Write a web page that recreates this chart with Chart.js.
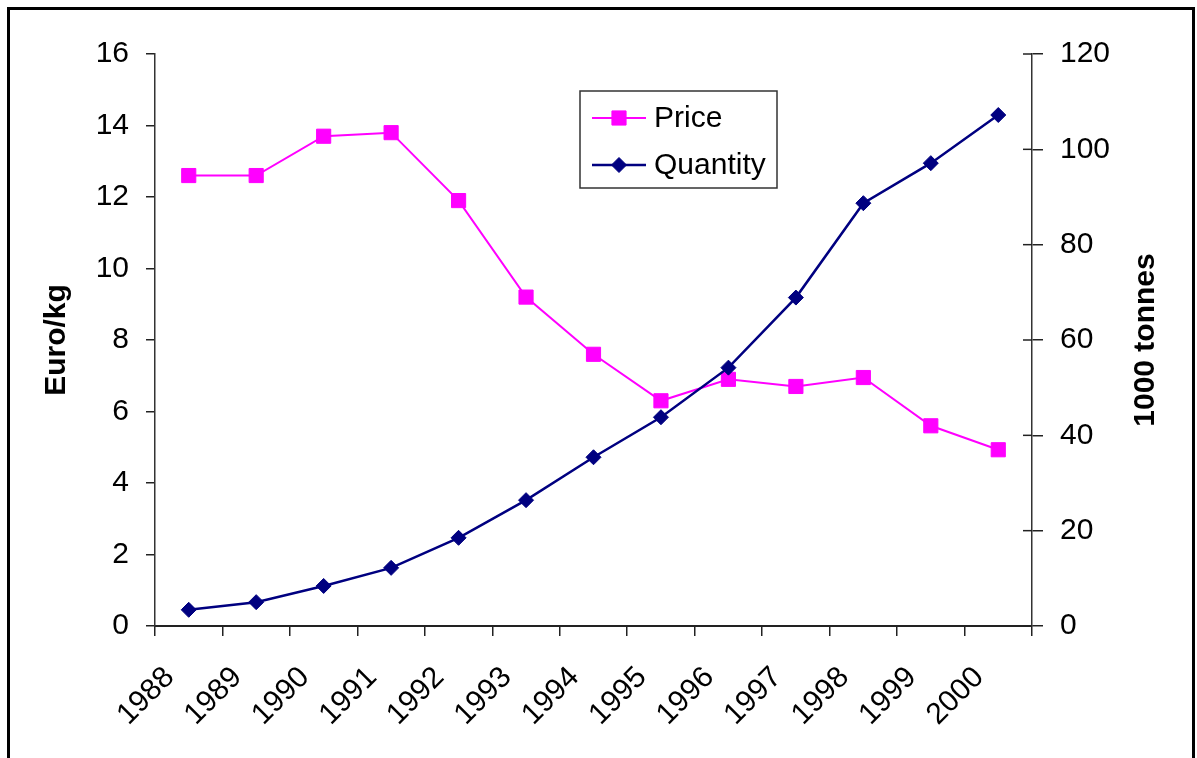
<!DOCTYPE html>
<html>
<head>
<meta charset="utf-8">
<script src="https://cdn.jsdelivr.net/npm/chart.js@4/dist/chart.umd.min.js"></script>
<style>
  html, body { margin: 0; padding: 0; background: #fff; }
  #wrap { position: relative; width: 1197px; height: 758px; }
</style>
</head>
<body>
<div id="wrap"><canvas id="priceChart"></canvas></div>
<script>
// data
const years = ['1988', '1989', '1990', '1991', '1992', '1993', '1994', '1995', '1996', '1997', '1998', '1999', '2000'];
const priceValues = [12.6, 12.6, 13.7, 13.8, 11.9, 9.2, 7.6, 6.3, 6.9, 6.7, 6.95, 5.6, 4.93];
const quantityValues = [3.4, 5.0, 8.4, 12.2, 18.5, 26.4, 35.4, 43.8, 54.2, 68.9, 88.7, 97.1, 107.2];
const priceTicks = [0, 2, 4, 6, 8, 10, 12, 14, 16];
const quantityTicks = [0, 20, 40, 60, 80, 100, 120];

const FONT = "'Liberation Sans', Arial, sans-serif";

// white page with the black frame round it
const framePlugin = {
  id: 'frame',
  beforeDraw(chart) {
    const ctx = chart.ctx;
    ctx.save();
    ctx.fillStyle = '#fff';
    ctx.fillRect(0, 0, chart.width, chart.height);
    ctx.strokeStyle = '#000';
    ctx.lineWidth = 3;
    ctx.strokeRect(8.5, 8.5, 1185, 800);
    ctx.restore();
  }
};

// right axis ticks cross the axis line, draw the inner half
const innerTicksPlugin = {
  id: 'innerTicks',
  afterDatasetsDraw(chart) {
    const s = chart.scales.y1;
    const ctx = chart.ctx;
    ctx.save();
    ctx.strokeStyle = '#222';
    ctx.lineWidth = 1.5;
    s.ticks.forEach((t, i) => {
      const y = s.getPixelForTick(i);
      ctx.beginPath();
      ctx.moveTo(s.left - 9, y);
      ctx.lineTo(s.left, y);
      ctx.stroke();
    });
    ctx.restore();
  }
};

// both axis titles read bottom to top
const titlesPlugin = {
  id: 'titles',
  afterDraw(chart) {
    const ctx = chart.ctx;
    const mid = (chart.chartArea.top + chart.chartArea.bottom) / 2;
    ctx.save();
    ctx.fillStyle = '#000';
    ctx.font = 'bold 30px ' + FONT;
    ctx.textAlign = 'center';
    ctx.textBaseline = 'middle';
    [['Euro/kg', 57], ['1000 tonnes', 1146]].forEach(([txt, x]) => {
      ctx.save();
      ctx.translate(x, mid);
      ctx.rotate(-Math.PI / 2);
      ctx.fillText(txt, 0, 0);
      ctx.restore();
    });
    ctx.restore();
  }
};

// boxed legend inside the plot
const boxLegendPlugin = {
  id: 'boxLegend',
  afterDraw(chart) {
    const ctx = chart.ctx;
    const box = { x: 580, y: 91, w: 197, h: 97 };
    ctx.save();
    ctx.fillStyle = '#fff';
    ctx.fillRect(box.x, box.y, box.w, box.h);
    ctx.strokeStyle = '#333';
    ctx.lineWidth = 1.5;
    ctx.strokeRect(box.x, box.y, box.w, box.h);
    const rows = [118, 165];
    chart.data.datasets.forEach((ds, i) => {
      const y = rows[i];
      ctx.strokeStyle = ds.borderColor;
      ctx.lineWidth = ds.borderWidth;
      ctx.beginPath();
      ctx.moveTo(592, y);
      ctx.lineTo(646, y);
      ctx.stroke();
      ctx.fillStyle = ds.pointBackgroundColor;
      ctx.strokeStyle = ds.pointBorderColor;
      ctx.lineWidth = 1;
      Chart.helpers.drawPoint(ctx, { pointStyle: ds.pointStyle, radius: ds.pointRadius, borderWidth: 1 }, 619, y);
      ctx.fillStyle = '#000';
      ctx.font = '30px ' + FONT;
      ctx.textAlign = 'left';
      ctx.textBaseline = 'middle';
      ctx.fillText(ds.label, 654, y + 1);
    });
    ctx.restore();
  }
};

const chart = new Chart(document.getElementById('priceChart').getContext('2d'), {
  type: 'line',
  data: {
    labels: years,
    datasets: [
      {
        label: 'Price',
        data: priceValues,
        yAxisID: 'y',
        borderColor: '#FF00FF',
        backgroundColor: '#FF00FF',
        pointBackgroundColor: '#FF00FF',
        pointBorderColor: '#FF00FF',
        borderWidth: 2,
        pointStyle: 'rect',
        pointRadius: 10,
        pointBorderWidth: 1,
        tension: 0,
        order: 2
      },
      {
        label: 'Quantity',
        data: quantityValues,
        yAxisID: 'y1',
        borderColor: '#000080',
        backgroundColor: '#000080',
        pointBackgroundColor: '#000080',
        pointBorderColor: '#000080',
        borderWidth: 2.5,
        pointStyle: 'rectRot',
        pointRadius: 7.5,
        pointBorderWidth: 1,
        tension: 0,
        order: 1
      }
    ]
  },
  options: {
    responsive: true,
    maintainAspectRatio: false,
    animation: false,
    layout: { padding: { top: 54, left: 0, right: 0, bottom: 0 } },
    plugins: {
      legend: { display: false },
      tooltip: { enabled: false }
    },
    scales: {
      x: {
        type: 'category',
        offset: true,
        grid: { display: true, offset: true, drawOnChartArea: false, drawTicks: true, tickLength: 10, color: '#222', lineWidth: 1.5 },
        border: { display: true, color: '#222', width: 2 },
        ticks: { color: '#000', font: { family: FONT, size: 30 }, minRotation: 45, maxRotation: 45, padding: 24, labelOffset: -19, autoSkip: false },
        afterFit(s) { s.height = 132; }
      },
      y: {
        position: 'left',
        min: priceTicks[0],
        max: priceTicks[priceTicks.length - 1],
        afterBuildTicks(s) { s.ticks = priceTicks.map(v => ({ value: v })); },
        grid: { drawOnChartArea: false, drawTicks: true, tickLength: 9, color: '#222', lineWidth: 1.5 },
        border: { display: true, color: '#333', width: 1.5 },
        ticks: { color: '#000', font: { family: FONT, size: 30 }, padding: 17 },
        afterFit(s) { s.width = 155; }
      },
      y1: {
        position: 'right',
        min: quantityTicks[0],
        max: quantityTicks[quantityTicks.length - 1],
        afterBuildTicks(s) { s.ticks = quantityTicks.map(v => ({ value: v })); },
        grid: { drawOnChartArea: false, drawTicks: true, tickLength: 11, color: '#222', lineWidth: 1.5 },
        border: { display: true, color: '#333', width: 1.5 },
        ticks: { color: '#000', font: { family: FONT, size: 30 }, padding: 17 },
        afterFit(s) { s.width = 165; }
      }
    }
  },
  plugins: [framePlugin, innerTicksPlugin, titlesPlugin, boxLegendPlugin]
});
</script>
</body>
</html>
